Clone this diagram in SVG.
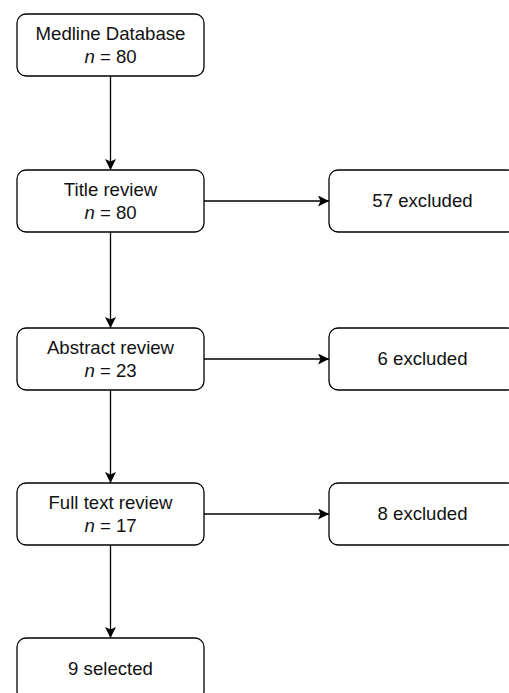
<svg xmlns="http://www.w3.org/2000/svg" width="509" height="693" viewBox="0 0 509 693">
<defs>
<style>
.box{fill:#fff;stroke:#000;stroke-width:1.3}
.t{font-family:"Liberation Sans",Arial,sans-serif;font-size:18.6px;fill:#111;text-anchor:middle}
.i{font-style:italic}
.c{stroke:#000;stroke-width:1.3;fill:none;marker-end:url(#ah)}
</style>
<marker id="ah" markerWidth="11" markerHeight="11" viewBox="0 0 11 11" refX="11" refY="5.5" orient="auto" markerUnits="userSpaceOnUse">
<path d="M0,0 L11,5.5 L0,11 L2.5,5.5 Z" fill="#000"/>
</marker>
</defs>
<rect width="509" height="693" fill="#fff"/>
<g id="connectors">
<path class="c" d="M110.5,76 V170"/>
<path class="c" d="M110.5,232 V328"/>
<path class="c" d="M110.5,390 V483"/>
<path class="c" d="M110.5,545 V638"/>
<path class="c" d="M204,201 H329"/>
<path class="c" d="M204,359 H329"/>
<path class="c" d="M204,514 H329"/>
</g>
<g id="medline">
<rect class="box" x="17" y="14" width="187" height="62" rx="9"/>
<text class="t" x="110.5" y="39.5">Medline Database</text>
<text class="t" x="110.5" y="62.5"><tspan class="i">n</tspan> = 80</text>
</g>
<g id="title">
<rect class="box" x="17" y="170" width="187" height="62" rx="9"/>
<text class="t" x="110.5" y="195.5">Title review</text>
<text class="t" x="110.5" y="218.5"><tspan class="i">n</tspan> = 80</text>
</g>
<g id="abstract">
<rect class="box" x="17" y="328" width="187" height="62" rx="9"/>
<text class="t" x="110.5" y="353.5">Abstract review</text>
<text class="t" x="110.5" y="376.5"><tspan class="i">n</tspan> = 23</text>
</g>
<g id="fulltext">
<rect class="box" x="17" y="483" width="187" height="62" rx="9"/>
<text class="t" x="110.5" y="508.5">Full text review</text>
<text class="t" x="110.5" y="531.5"><tspan class="i">n</tspan> = 17</text>
</g>
<g id="selected">
<rect class="box" x="17" y="638" width="187" height="62" rx="9"/>
<text class="t" x="110.5" y="675">9 selected</text>
</g>
<g id="excl57">
<rect class="box" x="329" y="170" width="187" height="62" rx="9"/>
<text class="t" x="422.5" y="207">57 excluded</text>
</g>
<g id="excl6">
<rect class="box" x="329" y="328" width="187" height="62" rx="9"/>
<text class="t" x="422.5" y="365">6 excluded</text>
</g>
<g id="excl8">
<rect class="box" x="329" y="483" width="187" height="62" rx="9"/>
<text class="t" x="422.5" y="520">8 excluded</text>
</g>
</svg>
